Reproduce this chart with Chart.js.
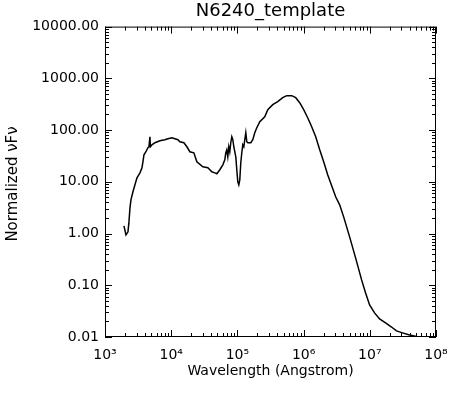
<!DOCTYPE html>
<html>
<head>
<meta charset="utf-8">
<script src="https://cdn.jsdelivr.net/npm/chart.js@4.4.0/dist/chart.umd.min.js"></script>
<style>
  html, body { margin: 0; padding: 0; background: #fff; }
</style>
</head>
<body>
<canvas id="sedChart" width="472" height="394"></canvas>
<script>
// Wavelength in Angstrom
const wavelength = [
  1934, 2073, 2224, 2301, 2383, 2466, 2643, 2835, 3041, 3375,
  3617, 3743, 3875, 4153, 4453, 4610, 4772, 4855, 5116, 5675,
  6756, 8036, 8918, 10250, 11370, 12620, 13520, 15550, 17260, 19150,
  21990, 24420, 30080, 35780, 41100, 45620, 48880, 54290, 60240, 64540,
  66830, 69170, 71620, 74150, 76740, 79450, 82330, 85250, 88270, 94560,
  97910, 101400, 105000, 108700, 112500, 116500, 120600, 125000, 129400, 134000,
  138700, 143600, 159400, 170800, 182900, 196300, 217900, 258900, 287700, 342000,
  406400, 483800, 555900, 661500, 760300, 873000, 1003000, 1153000, 1325000, 1524000,
  1751000, 2011000, 2311000, 2655000, 3050000, 3507000, 4028000, 4956000, 6100000, 7520000,
  8640000, 9930000, 11800000, 14050000, 17300000, 21300000, 25300000, 31200000, 39800000, 50800000
];

// Normalized nu F nu
const nuFnu = [
  1.41, 0.94, 1.08, 1.68, 3.14, 4.49, 6.41, 8.75, 11.96, 14.9,
  18.7, 24.4, 33.3, 38.1, 45.5, 47.6, 74.3, 47.6, 52.0, 56.9,
  62.2, 65.1, 68.0, 71.1, 68.0, 65.1, 59.4, 56.9, 47.6, 38.1,
  36.4, 24.4, 19.5, 18.7, 15.6, 14.9, 14.3, 17.1, 21.3, 26.7,
  36.4, 41.6, 30.5, 47.6, 38.1, 56.9, 74.3, 65.1, 47.6, 30.5,
  17.1, 10.0, 8.75, 10.9, 23.3, 36.4, 52.0, 47.6, 65.1, 88.7,
  59.4, 56.9, 56.9, 65.1, 88.7, 110.9, 144.9, 181.1, 247.6, 309.3,
  353.3, 422.4, 462.0, 462.0, 422.4, 338.0, 247.6, 173.4, 116.2, 74.3,
  41.6, 24.4, 13.7, 8.37, 5.13, 3.59, 2.10, 0.863, 0.338, 0.127,
  0.0711, 0.0417, 0.0292, 0.0223, 0.0187, 0.0156, 0.0131, 0.0120, 0.0109, 0.0102
];

const xTickValues = [1e3, 1e4, 1e5, 1e6, 1e7, 1e8];
const xTickLabels = ["10³", "10⁴", "10⁵", "10⁶", "10⁷", "10⁸"];
const yTickValues = [0.01, 0.1, 1, 10, 100, 1000, 10000];
const yTickLabels = ["0.01", "0.10", "1.00", "10.00", "100.00", "1000.00", "10000.00"];

const points = wavelength.map((w, i) => ({ x: w, y: nuFnu[i] }));

Chart.defaults.font.family = "DejaVu Sans";
Chart.defaults.color = "#000";

// IDL-like box with inward major/minor ticks on all four sides
const boxTicks = {
  id: "boxTicks",
  afterDraw(chart) {
    const { ctx, chartArea: a, scales } = chart;
    const x = scales.x;
    const y = scales.y;
    ctx.save();
    ctx.strokeStyle = "#000";
    ctx.lineWidth = 1;
    ctx.strokeRect(a.left + 0.5, a.top + 0.5, a.right - a.left - 1, a.bottom - a.top - 1);
    ctx.beginPath();
    for (let d = 3; d <= 8; d++) {
      for (let m = 1; m < 10; m++) {
        const v = m * Math.pow(10, d);
        if (v > 1e8) break;
        const px = Math.round(x.getPixelForValue(v)) + 0.5;
        const len = m === 1 ? 7 : 4;
        ctx.moveTo(px, a.bottom);
        ctx.lineTo(px, a.bottom - len);
        ctx.moveTo(px, a.top);
        ctx.lineTo(px, a.top + len);
      }
    }
    for (let d = -2; d <= 4; d++) {
      for (let m = 1; m < 10; m++) {
        const v = m * Math.pow(10, d);
        if (v > 1e4) break;
        const py = Math.round(y.getPixelForValue(v)) + 0.5;
        const len = m === 1 ? 7 : 4;
        ctx.moveTo(a.left, py);
        ctx.lineTo(a.left + len, py);
        ctx.moveTo(a.right, py);
        ctx.lineTo(a.right - len, py);
      }
    }
    ctx.stroke();

    // y axis title
    ctx.translate(13, 184);
    ctx.rotate(-Math.PI / 2);
    ctx.font = "15px 'DejaVu Sans'";
    ctx.fillStyle = "#000";
    ctx.textAlign = "center";
    ctx.textBaseline = "middle";
    ctx.fillText("Normalized νFν", 0, 0);
    ctx.restore();
  }
};

new Chart(document.getElementById("sedChart"), {
  type: "scatter",
  data: {
    datasets: [
      {
        data: points,
        showLine: true,
        borderColor: "#000",
        borderWidth: 1.5,
        pointRadius: 0,
        tension: 0,
      },
    ],
  },
  options: {
    responsive: false,
    animation: false,
    devicePixelRatio: 1,
    layout: { padding: { left: 0, right: 36, top: 0, bottom: 0 } },
    plugins: {
      legend: { display: false },
      tooltip: { enabled: false },
      title: {
        display: true,
        text: "N6240_template",
        fullSize: false,
        font: { size: 18, weight: "normal" },
        padding: { top: 1, bottom: 4 },
      },
    },
    scales: {
      x: {
        type: "logarithmic",
        min: 1e3,
        max: 1e8,
        grid: { display: false, drawTicks: false },
        border: { display: false },
        afterBuildTicks: (scale) => {
          scale.ticks = xTickValues.map((v) => ({ value: v }));
        },
        afterFit: (scale) => {
          scale.height = 57;
        },
        ticks: {
          maxRotation: 0,
          autoSkip: false,
          padding: 10,
          font: { size: 14 },
          callback: (value, index) => xTickLabels[index],
        },
        title: {
          display: true,
          text: "Wavelength (Angstrom)",
          font: { size: 14 },
          padding: { top: 0, bottom: 14 },
        },
      },
      y: {
        type: "logarithmic",
        min: 0.01,
        max: 10000,
        grid: { display: false, drawTicks: false },
        border: { display: false },
        afterBuildTicks: (scale) => {
          scale.ticks = yTickValues.map((v) => ({ value: v }));
        },
        afterFit: (scale) => {
          scale.width = 105;
        },
        ticks: {
          autoSkip: false,
          padding: 6,
          font: { size: 14 },
          callback: (value, index) => yTickLabels[index],
        },
      },
    },
  },
  plugins: [boxTicks],
});
</script>
</body>
</html>
